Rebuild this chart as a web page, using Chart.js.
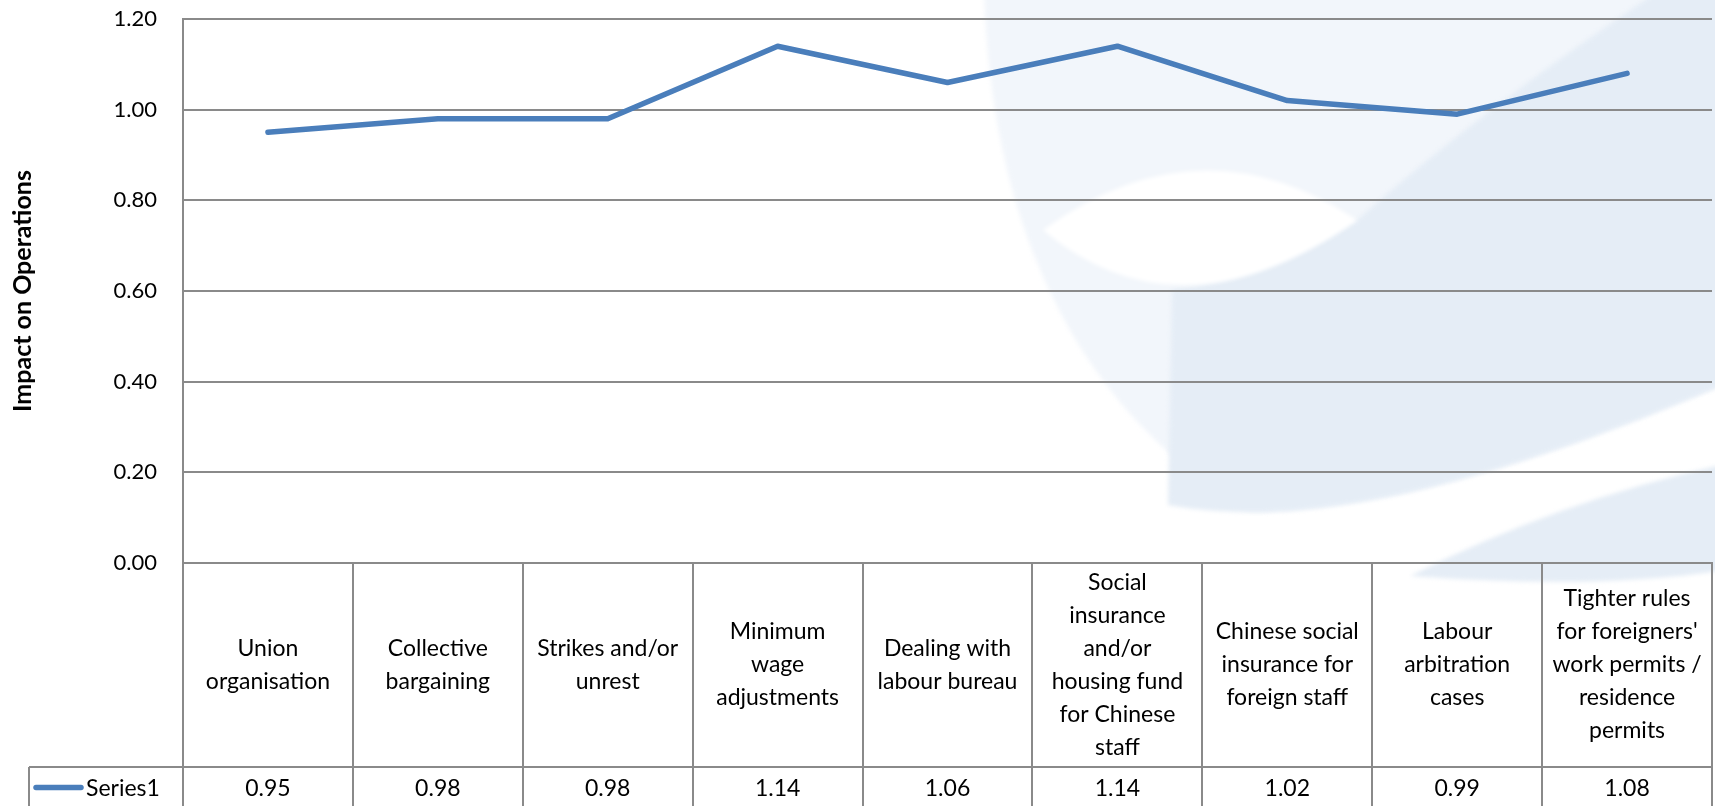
<!DOCTYPE html>
<html>
<head>
<meta charset="utf-8">
<script src="https://cdn.jsdelivr.net/npm/chart.js@4.4.1/dist/chart.umd.min.js"></script>
<style>
  html, body { margin: 0; padding: 0; background: #ffffff; }
  #wrap { width: 1715px; height: 806px; position: relative; overflow: hidden; }
  canvas { display: block; }
</style>
</head>
<body>
<div id="wrap"><canvas id="chart" width="1715" height="806"></canvas></div>
<script>
// Category labels, one entry per line of the wrapped header cell
const categories = [
  ['Union', 'organisation'],
  ['Collective', 'bargaining'],
  ['Strikes and/or', 'unrest'],
  ['Minimum', 'wage', 'adjustments'],
  ['Dealing with', 'labour bureau'],
  ['Social', 'insurance', 'and/or', 'housing fund', 'for Chinese', 'staff'],
  ['Chinese social', 'insurance for', 'foreign staff'],
  ['Labour', 'arbitration', 'cases'],
  ['Tighter rules', "for foreigners'", 'work permits /', 'residence', 'permits']
];
const seriesName = 'Series1';
const series1 = [0.95, 0.98, 0.98, 1.14, 1.06, 1.14, 1.02, 0.99, 1.08];
const yTicks = [0, 0.2, 0.4, 0.6, 0.8, 1.0, 1.2];
const yTitle = 'Impact on Operations';

const FONT = 'Lato';
const GRID = '#8a8a8a';
const LINE = '#4a7ebb';

// Faint logo shapes painted behind the plot
const backdrop = {
  id: 'backdrop',
  beforeDraw(chart) {
    const ctx = chart.ctx;
    ctx.save();
    ctx.fillStyle = '#ffffff';
    ctx.fillRect(0, 0, chart.width, chart.height);
    ctx.filter = 'blur(2px)';

    // large crescent
    ctx.fillStyle = '#f2f6fb';
    ctx.beginPath();
    ctx.moveTo(984, -10);
    ctx.bezierCurveTo(990, 200, 1060, 400, 1250, 512);
    ctx.bezierCurveTo(1400, 512, 1580, 445, 1725, 384);
    ctx.lineTo(1725, -10);
    ctx.closePath();
    ctx.fill();

    // deeper tone on the right half
    ctx.fillStyle = '#e5edf6';
    ctx.beginPath();
    ctx.moveTo(1660, -10);
    ctx.quadraticCurveTo(1480, 110, 1355, 222);
    ctx.quadraticCurveTo(1260, 280, 1172, 290);
    ctx.lineTo(1168, 505);
    ctx.bezierCurveTo(1200, 511, 1230, 512, 1250, 512);
    ctx.bezierCurveTo(1400, 512, 1580, 445, 1725, 384);
    ctx.lineTo(1725, -10);
    ctx.closePath();
    ctx.fill();

    // white eye
    ctx.fillStyle = '#ffffff';
    ctx.beginPath();
    ctx.moveTo(1043, 230);
    ctx.quadraticCurveTo(1200, 116, 1357, 220);
    ctx.quadraticCurveTo(1180, 345, 1043, 230);
    ctx.closePath();
    ctx.fill();

    // lower right sweep
    ctx.fillStyle = '#e5edf6';
    ctx.beginPath();
    ctx.moveTo(1410, 576);
    ctx.quadraticCurveTo(1560, 500, 1725, 464);
    ctx.lineTo(1725, 570);
    ctx.quadraticCurveTo(1600, 590, 1410, 576);
    ctx.closePath();
    ctx.fill();
    ctx.restore();
  }
};

// Data table under the plot: category header row and the value row
const dataTable = {
  id: 'dataTable',
  afterDraw(chart) {
    const ctx = chart.ctx;
    const ca = chart.chartArea;
    const xs = chart.scales.x;
    const n = categories.length;
    const colW = (ca.right - ca.left) / n;
    const headTop = ca.bottom;
    const headBot = headTop + 204;
    const rowBot = headBot + 41;
    const legendLeft = 29;

    ctx.save();
    ctx.strokeStyle = GRID;
    ctx.lineWidth = 2;
    ctx.beginPath();
    for (let i = 0; i <= n; i++) {
      const x = Math.round(ca.left + i * colW);
      ctx.moveTo(x, headTop);
      ctx.lineTo(x, rowBot);
    }
    ctx.moveTo(legendLeft, headBot);
    ctx.lineTo(ca.right, headBot);
    ctx.moveTo(legendLeft, headBot);
    ctx.lineTo(legendLeft, rowBot);
    ctx.moveTo(legendLeft, rowBot);
    ctx.lineTo(ca.right, rowBot);
    ctx.stroke();

    ctx.fillStyle = '#000000';
    ctx.font = '23px ' + FONT;
    ctx.textAlign = 'center';
    ctx.textBaseline = 'middle';
    const lh = 33;
    const midHead = (headTop + headBot) / 2;
    categories.forEach((lines, i) => {
      const cx = xs.getPixelForValue(i);
      const y0 = midHead - (lines.length * lh) / 2 + lh / 2;
      lines.forEach((t, k) => ctx.fillText(t, cx, y0 + k * lh));
    });

    const midRow = (headBot + rowBot) / 2 + 1;
    series1.forEach((v, i) => {
      ctx.fillText(v.toFixed(2), xs.getPixelForValue(i), midRow);
    });

    // legend key
    ctx.strokeStyle = LINE;
    ctx.lineWidth = 5.5;
    ctx.lineCap = 'round';
    ctx.beginPath();
    ctx.moveTo(36, midRow - 1);
    ctx.lineTo(81, midRow - 1);
    ctx.stroke();
    ctx.textAlign = 'left';
    ctx.fillText(seriesName, 86, midRow);
    ctx.restore();
  }
};

function draw() {
  new Chart(document.getElementById('chart'), {
    type: 'line',
    data: {
      labels: categories,
      datasets: [{
        label: seriesName,
        data: series1,
        borderColor: LINE,
        backgroundColor: LINE,
        borderWidth: 5.5,
        borderCapStyle: 'round',
        borderJoinStyle: 'round',
        pointRadius: 0,
        tension: 0,
        fill: false
      }]
    },
    options: {
      responsive: false,
      animation: false,
      devicePixelRatio: 1,
      layout: { padding: { left: 0, top: 19, right: 3, bottom: 243 } },
      plugins: { legend: { display: false }, tooltip: { enabled: false } },
      scales: {
        x: {
          offset: true,
          grid: { display: false, drawTicks: false },
          ticks: { display: false },
          border: { display: true, color: GRID, width: 2 }
        },
        y: {
          min: 0,
          max: 1.2,
          afterBuildTicks: s => { s.ticks = yTicks.map(v => ({ value: v })); },
          afterFit: s => { s.width = 183; },
          grid: {
            color: GRID,
            lineWidth: 2,
            drawTicks: true,
            tickLength: 22,
            tickColor: 'rgba(0,0,0,0)'
          },
          border: { display: true, color: GRID, width: 2 },
          ticks: {
            padding: 4,
            color: '#000000',
            font: { family: FONT, size: 22 },
            callback: v => Number(v).toFixed(2)
          },
          title: {
            display: true,
            text: yTitle,
            color: '#000000',
            font: { family: FONT, size: 25, weight: 'bold' },
            padding: { top: 8, bottom: 0 }
          }
        }
      }
    },
    plugins: [backdrop, dataTable]
  });
}

Promise.all([
  document.fonts.load('23px ' + FONT),
  document.fonts.load('bold 25px ' + FONT)
]).then(draw, draw);
</script>
</body>
</html>
